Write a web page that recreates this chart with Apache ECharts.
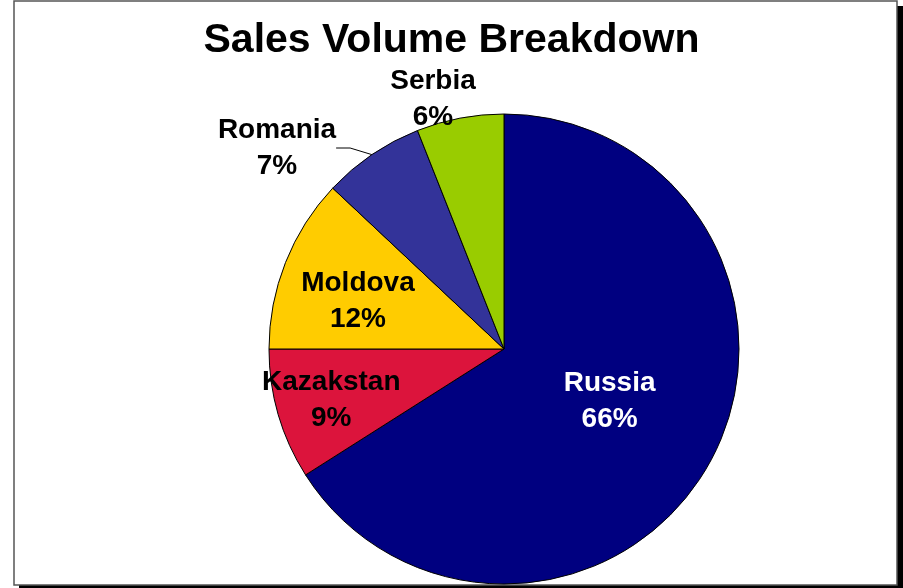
<!DOCTYPE html>
<html>
<head>
<meta charset="utf-8">
<script src="https://cdn.jsdelivr.net/npm/echarts@6/dist/echarts.min.js"></script>
<style>
html,body{margin:0;padding:0;background:#fff;}
#chart{width:903px;height:588px;}
</style>
</head>
<body>
<div id="chart"></div>
<script>
const titleText = 'Sales Volume Breakdown';
const categories = ['Russia', 'Kazakstan', 'Moldova', 'Romania', 'Serbia'];
const shares = [66, 9, 12, 7, 6];
const colors = ['#000080', '#DC143C', '#FFCC00', '#333399', '#99CC00'];

// label placement (styling only)
const labelPlacement = {
  Russia: {dx: 0, dy: -6},
  Kazakstan: {dx: -57, dy: 18},
  Moldova: {dx: -34, dy: -3},
  Romania: {x: 277, y: 148},
  Serbia: {x: 433, y: 99}
};
const insideNames = ['Russia', 'Kazakstan', 'Moldova'];

const chart = echarts.init(document.getElementById('chart'), null, {renderer: 'canvas'});

const data = categories.map((name, i) => {
  const inside = insideNames.indexOf(name) >= 0;
  return {
    name: name,
    value: shares[i],
    itemStyle: {color: colors[i]},
    label: {
      position: inside ? 'inside' : 'outside',
      color: name === 'Russia' ? '#ffffff' : '#000000'
    },
    labelLine: {show: name === 'Romania'}
  };
});

chart.setOption({
  backgroundColor: '#ffffff',
  animation: false,
  graphic: [
    {type: 'rect', z: -20, silent: true, shape: {x: 19, y: 6, width: 884, height: 582}, style: {fill: '#000000'}},
    {type: 'rect', z: -10, silent: true, shape: {x: 14, y: 1, width: 883, height: 584}, style: {fill: '#ffffff', stroke: '#555555', lineWidth: 1.5}}
  ],
  title: {
    text: titleText,
    left: 'center',
    top: 15,
    textStyle: {fontFamily: 'Liberation Sans, Arial, sans-serif', fontWeight: 'bold', fontSize: 41, color: '#000000'}
  },
  series: [{
    type: 'pie',
    center: [504, 349],
    radius: 235,
    startAngle: 90,
    clockwise: true,
    itemStyle: {borderColor: '#000000', borderWidth: 1},
    emphasis: {disabled: true},
    label: {
      show: true,
      formatter: '{b}\n{d}%',
      fontFamily: 'Liberation Sans, Arial, sans-serif',
      fontWeight: 'bold',
      fontSize: 28,
      lineHeight: 36,
      align: 'center'
    },
    labelLine: {
      length: 12,
      length2: 14,
      lineStyle: {color: '#000000', width: 1}
    },
    labelLayout: function (params) {
      const name = categories[params.dataIndex];
      const p = labelPlacement[name];
      if (p.x !== undefined) {
        return {x: p.x, y: p.y, align: 'center', verticalAlign: 'middle'};
      }
      return {dx: p.dx, dy: p.dy};
    },
    data: data
  }]
});
</script>
</body>
</html>
